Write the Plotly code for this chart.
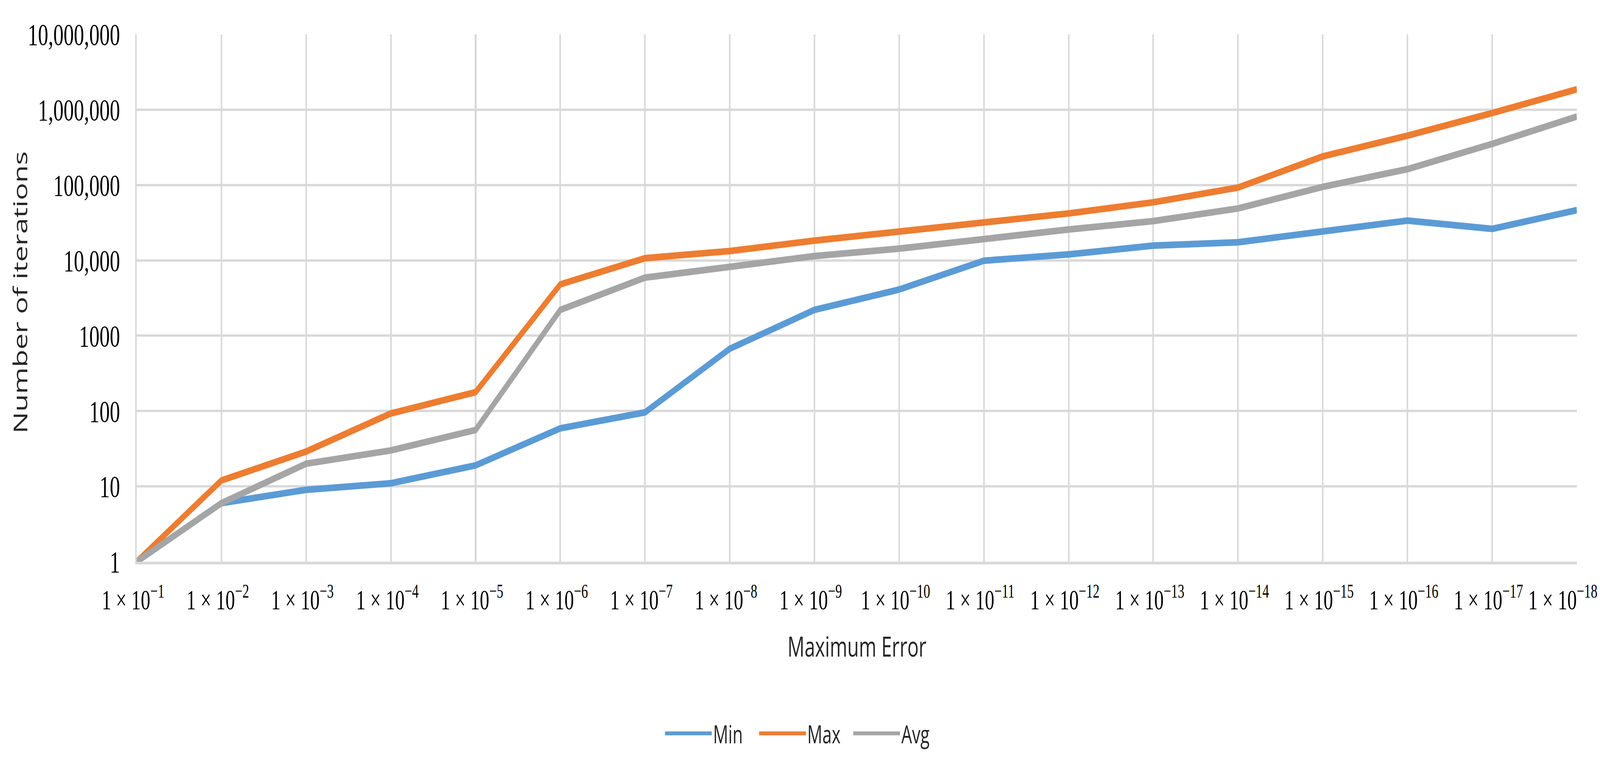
import plotly.graph_objects as go

# ---- data ----
categories = ["1 × 10<sup>−1</sup>", "1 × 10<sup>−2</sup>", "1 × 10<sup>−3</sup>",
              "1 × 10<sup>−4</sup>", "1 × 10<sup>−5</sup>", "1 × 10<sup>−6</sup>",
              "1 × 10<sup>−7</sup>", "1 × 10<sup>−8</sup>", "1 × 10<sup>−9</sup>",
              "1 × 10<sup>−10</sup>", "1 × 10<sup>−11</sup>", "1 × 10<sup>−12</sup>",
              "1 × 10<sup>−13</sup>", "1 × 10<sup>−14</sup>", "1 × 10<sup>−15</sup>",
              "1 × 10<sup>−16</sup>", "1 × 10<sup>−17</sup>", "1 × 10<sup>−18</sup>"]

min_vals = [1, 6, 9, 11, 19, 59, 96, 670, 2200, 4100, 9900, 12000,
            15700, 17400, 24200, 33700, 26200, 46400]
max_vals = [1, 12, 29, 93, 178, 4800, 10700, 13300, 18300, 24400, 31800, 42000,
            59000, 92500, 240000, 452000, 903000, 1866000]
avg_vals = [1, 6, 20, 30, 56, 2200, 5900, 8200, 11400, 14300, 19500, 25700,
            33200, 48900, 94500, 162600, 352000, 812000]

y_tickvals = [1, 10, 100, 1000, 10000, 100000, 1000000, 10000000]
y_ticktext = ["1", "10", "100", "1000", "10,000", "100,000", "1,000,000", "10,000,000"]

series_names = ["Min", "Max", "Avg"]
colors = ["#5B9BD5", "#ED7D31", "#A5A5A5"]

W, H = 6085, 1938
L, R, T, B = 520, 88, 88, 500
PW, PH = W - L - R, H - T - B
GRID = "#D9D9D9"
SERIF = "Liberation Serif"
SANS = "Open Sans"
TEXT = "#262626"


def py(px):
    """paper y from a pixel row measured from the top of the page"""
    return (H - B - px) / PH


fig = go.Figure()
for name, vals, col in zip(series_names, [min_vals, max_vals, avg_vals], colors):
    fig.add_trace(go.Scatter(x=categories, y=vals, name=name, mode="lines",
                             line=dict(color=col, width=17)))

# category tick labels drawn as annotations so the last one can stay inside the page
annotations = []
last = len(categories) - 1
for i, cat in enumerate(categories):
    annotations.append(dict(
        text=cat, x=cat, xref="x", y=py(1530), yref="paper",
        xanchor="right" if i == last else "center", yanchor="middle",
        xshift=80 if i == last else -14, showarrow=False,
        font=dict(family=SERIF, size=72, color="black")))

annotations += [
    dict(text="Number of iterations", xref="paper", yref="paper",
         x=(75 - L) / PW, y=py(748),
         xanchor="center", yanchor="middle", textangle=-90, showarrow=False,
         font=dict(family=SANS, size=74, color=TEXT)),
    dict(text="Maximum Error", xref="paper", yref="paper",
         x=0.5, y=py(1653),
         xanchor="center", yanchor="middle", showarrow=False,
         font=dict(family=SANS, size=72, color=TEXT)),
]

fig.update_layout(
    width=W, height=H,
    margin=dict(l=L, r=R, t=T, b=B, autoexpand=False),
    paper_bgcolor="white", plot_bgcolor="white",
    showlegend=True,
    legend=dict(orientation="h", x=(3061 - L) / PW, xanchor="center",
                y=py(1878), yanchor="middle",
                font=dict(family=SANS, size=64, color=TEXT),
                itemwidth=178, entrywidth=165, entrywidthmode="pixels",
                bgcolor="rgba(0,0,0,0)"),
    xaxis=dict(type="category", range=[0, last],
               showgrid=True, gridcolor=GRID, gridwidth=6,
               showline=True, linecolor=GRID, linewidth=7,
               ticks="", showticklabels=False, automargin=False,
               zeroline=False),
    yaxis=dict(type="log", range=[0, 7],
               tickvals=y_tickvals, ticktext=y_ticktext,
               showgrid=True, gridcolor=GRID, gridwidth=6,
               showline=True, linecolor=GRID, linewidth=6,
               ticks="", ticklabelstandoff=42, automargin=False,
               tickfont=dict(family=SERIF, size=78, color="black"),
               zeroline=False),
    annotations=annotations,
)

# Fit the fixed-size figure into whatever viewport the page is opened in
fit_js = """
(function(){
  var gd = document.getElementById('{plot_id}');
  document.documentElement.style.overflow = 'hidden';
  document.body.style.margin = '0';
  document.body.style.overflow = 'hidden';
  var vw = document.documentElement.clientWidth || window.innerWidth;
  var vh = document.documentElement.clientHeight || window.innerHeight;
  gd.style.transformOrigin = '0 0';
  gd.style.transform = 'scale(' + (vw / %d) + ',' + (vh / %d) + ')';
})();
""" % (W, H)

fig.write_html("out.html", config={"displayModeBar": False}, post_script=fit_js)
